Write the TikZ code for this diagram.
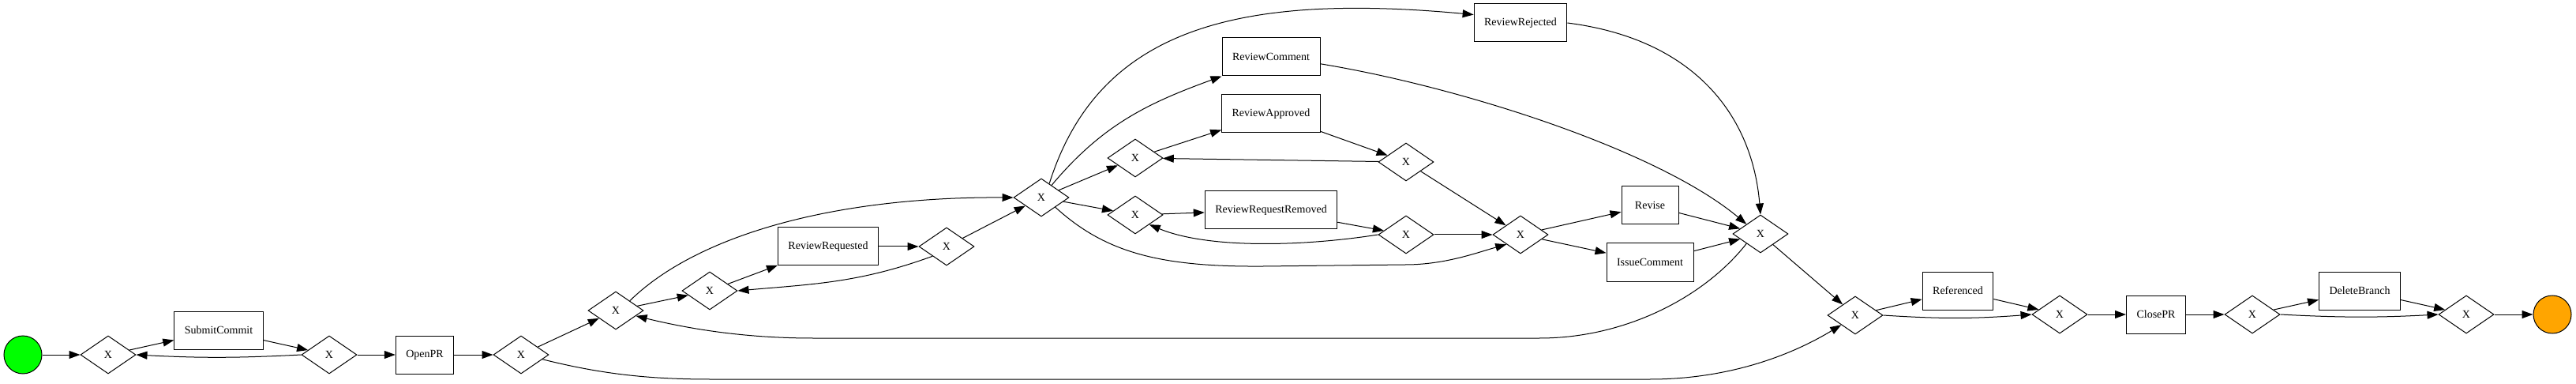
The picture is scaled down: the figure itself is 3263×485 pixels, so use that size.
\documentclass[tikz,border=0pt]{standalone}
\usepackage{fontspec}
\setmainfont{Liberation Serif}
\usetikzlibrary{shapes.geometric,arrows.meta}
\definecolor{startgreen}{HTML}{00FF00}
\definecolor{endorange}{HTML}{FFA500}

\begin{document}
\begin{tikzpicture}[x=1pt,y=1pt,line width=1pt,
    font=\fontsize{14}{16}\selectfont,
    gate/.style={draw,diamond,aspect=1.46,minimum width=70pt,minimum height=48pt,inner sep=0pt},
    task/.style={draw,rectangle,minimum width=72pt,minimum height=48pt,inner xsep=13pt},
    event/.style={draw,circle,minimum size=48pt,inner sep=0pt},
    flow/.style={-{Triangle[length=14pt,width=10pt]}}]
  \useasboundingbox (0,0) rectangle (3263,485);
  % eventi
  \node[event,fill=startgreen] (start) at (29,36) {};
  \node[event,fill=endorange]  (stop)  at (3233,87) {};
  % gateway X
  \foreach \n/\x/\y in {g1/137/36, g2/417/36, g3/660/36, g4/780/92, g5/899/117,
      g6/1199/173, g7/1319/235, g8/1438/285, g9/1438/213, g10/1781/280,
      g11/1781/188, g12/1926/188, g13/2230/189, g14/2350/86, g15/2609/87,
      g16/2853/87, g17/3124/87} {
    \node[gate] (\n) at (\x,\y) {X};
  }
  % attivita
  \foreach \n/\x/\y in {SubmitCommit/277/67, OpenPR/538/36, ReviewRequested/1049/173,
      ReviewRejected/1926/456, ReviewComment/1610/413, ReviewApproved/1610/341,
      ReviewRequestRemoved/1610/219, Revise/2090/225, IssueComment/2090/153,
      Referenced/2480/117, ClosePR/2731/87, DeleteBranch/2989/117} {
    \node[task] (\n) at (\x,\y) {\n};
  }
  % archi diritti
  \foreach \a/\b in {start/g1, g1/SubmitCommit, SubmitCommit/g2, g2/OpenPR, OpenPR/g3,
      g3/g4, g4/g5, g5/ReviewRequested, ReviewRequested/g6, g6/g7, g7/g8, g7/g9,
      g8/ReviewApproved, ReviewApproved/g10, g10/g8, g9/ReviewRequestRemoved,
      ReviewRequestRemoved/g11, g10/g12, g11/g12, g12/Revise, g12/IssueComment,
      Revise/g13, IssueComment/g13, g13/g14, g14/Referenced, Referenced/g15,
      g15/ClosePR, ClosePR/g16, g16/DeleteBranch, DeleteBranch/g17, g17/stop} {
    \draw[flow] (\a) -- (\b);
  }
  % archi curvi
  \draw[flow] (g2.west) to[bend left=3] (g1.east);
  \draw[flow] (g14.east) to[bend right=4] (g15.west);
  \draw[flow] (g16.east) to[bend right=3] (g17.west);
  \draw[flow] (g6.south west) to[out=200,in=5] (g5.east);
  \draw[flow] (g7.50) to[out=50,in=200] (ReviewComment.south west);
  \draw[flow] (g3.-12) .. controls (760,12) and (820,5) .. (900,5) -- (2090,5)
    .. controls (2180,5) and (2260,30) .. (g14.south west);
  \draw[flow] (g4.north east) .. controls (880,185) and (1050,236) .. (g7.west);
  \draw[flow] (g13.south west) .. controls (2160,110) and (2060,57) .. (1950,57) -- (1030,57)
    .. controls (950,57) and (880,67) .. (g4.-15);
  \draw[flow] (g7.60) .. controls (1390,445) and (1560,495) .. (ReviewRejected.170);
  \draw[flow] (g7.south east) .. controls (1400,165) and (1470,147) .. (1600,148) -- (1780,150)
    .. controls (1830,150) and (1870,165) .. (g12.south west);
  \draw[flow] (g11.west) .. controls (1650,173) and (1530,170) .. (g9.south east);
  \draw[flow] (ReviewComment.-8) .. controls (1850,375) and (2100,295) .. (g13.north west);
  \draw[flow] (ReviewRejected.east) .. controls (2150,435) and (2220,335) .. (g13.north);
\end{tikzpicture}
\end{document}
